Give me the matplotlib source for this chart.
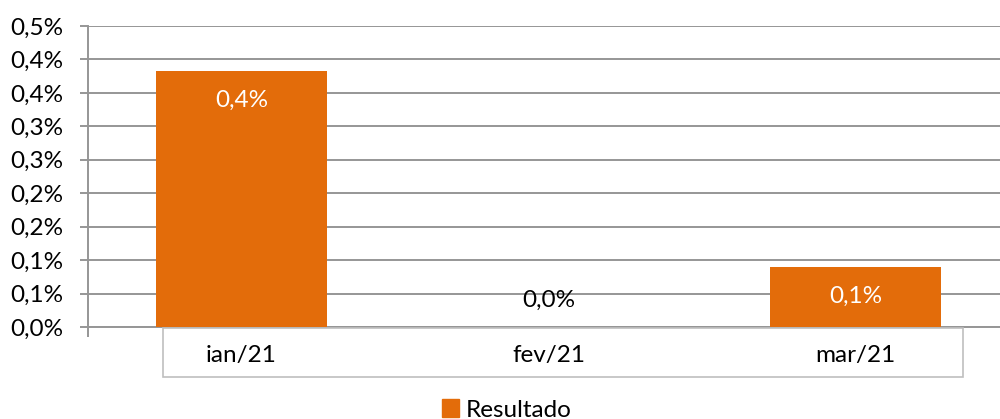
import math
import matplotlib
matplotlib.use("Agg")
import matplotlib.pyplot as plt
from matplotlib.ticker import FuncFormatter, MultipleLocator
from matplotlib.patches import Rectangle, Patch

# dados
meses = ["ian/21", "fev/21", "mar/21"]
resultado = [0.383, 0.0, 0.09]   # em %
rotulos = ["0,4%", "0,0%", "0,1%"]

LARANJA = "#E36C0A"
CINZA = "#969696"
FS = 17.5
plt.rcParams["font.family"] = ["Lato", "DejaVu Sans"]

fig = plt.figure(figsize=(10, 4.19), dpi=100)
W, H = 1000, 419
ax = fig.add_axes([88 / W, 1 - 327 / H, 921 / W, 301 / H])

x = range(len(meses))
ax.bar(x, resultado, width=0.554, color=LARANJA, zorder=3)

ax.set_xlim(-0.5, 2.5)
ax.set_ylim(0, 0.45)
ax.yaxis.set_major_locator(MultipleLocator(0.05))


def pct(v, pos):
    r = math.floor(v * 10 + 0.5 + 1e-9) / 10
    return f"{r:.1f}%".replace(".", ",")


ax.yaxis.set_major_formatter(FuncFormatter(pct))
ax.grid(axis="y", color=CINZA, lw=1.4, zorder=0)
ax.tick_params(axis="y", length=6, width=1.4, color=CINZA, labelsize=FS, pad=12)

ax.set_xticks(list(x))
ax.set_xticklabels(meses)
ax.tick_params(axis="x", which="major", length=0, labelsize=FS, pad=13)
ax.set_xticks([-0.5], minor=True)
ax.tick_params(axis="x", which="minor", length=7, width=1.4, color=CINZA)

for s in ["top", "right"]:
    ax.spines[s].set_visible(False)
ax.spines["left"].set_color(CINZA)
ax.spines["left"].set_linewidth(1.4)
ax.spines["bottom"].set_color(CINZA)
ax.spines["bottom"].set_linewidth(1.4)

# rótulos de dados
for xi, v, t in zip(x, resultado, rotulos):
    if v > 0:
        ax.annotate(t, (xi, v), xytext=(0, -21), textcoords="offset points",
                    ha="center", va="center", color="white", fontsize=FS, zorder=4)
    else:
        ax.annotate(t, (xi, v), xytext=(0, 19), textcoords="offset points",
                    ha="center", va="center", color="black", fontsize=FS, zorder=4)

# caixa dos rótulos de categoria
fig.patches.append(Rectangle((163 / W, 1 - 377 / H), 800 / W, 49 / H,
                             transform=fig.transFigure, fill=False,
                             edgecolor="#BFBFBF", lw=1.2))

fig.legend(handles=[Patch(color=LARANJA, label="Resultado")], loc="center",
           bbox_to_anchor=(0.507, 1 - 410 / H), frameon=False, fontsize=FS,
           handlelength=0.7, handleheight=0.7, handletextpad=0.3,
           borderpad=0, borderaxespad=0)

fig.savefig("out.png", dpi=100)
